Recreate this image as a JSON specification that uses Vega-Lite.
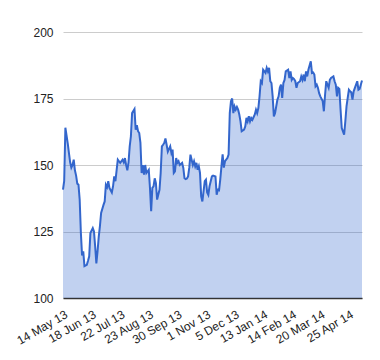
{
  "$schema": "https://vega.github.io/schema/vega-lite/v6.json",
  "width": 299,
  "height": 266,
  "autosize": {"type": "none"},
  "padding": {"left": 63, "top": 32, "right": 18, "bottom": 62},
  "config": {"view": {"stroke": null}, "font": "Liberation Sans"},
  "data": {"values": [
    {"d":0,"v":140.7},{"d":1,"v":144},{"d":2,"v":164},{"d":4,"v":158},{"d":5,"v":154.5},{"d":6,"v":151},{"d":7,"v":149},{"d":8,"v":150},{"d":9,"v":152},{"d":10,"v":148},
    {"d":11,"v":146},{"d":12,"v":143},{"d":13,"v":142.6},{"d":14,"v":137},{"d":15,"v":124.5},{"d":16,"v":116},{"d":17,"v":117.5},{"d":18,"v":112},{"d":20,"v":112.5},{"d":21,"v":114},
    {"d":22,"v":115.7},{"d":23,"v":124.4},{"d":25,"v":126.3},{"d":26,"v":125},{"d":27,"v":119.4},{"d":28,"v":113},{"d":29,"v":117.5},{"d":30,"v":123},{"d":31,"v":127},{"d":32,"v":132},
    {"d":34,"v":135},{"d":35,"v":136.3},{"d":36,"v":142.6},{"d":37,"v":141.7},{"d":38,"v":143.9},{"d":39,"v":141.4},{"d":41,"v":139.7},{"d":42,"v":142},{"d":43,"v":145.7},{"d":44,"v":143.9},
    {"d":45,"v":148},{"d":46,"v":152},{"d":47,"v":151.4},{"d":48,"v":150.8},{"d":50,"v":152},{"d":51,"v":151},{"d":52,"v":152.6},{"d":53,"v":150},{"d":54,"v":148},{"d":55,"v":151},
    {"d":56,"v":157},{"d":57,"v":160.8},{"d":58,"v":169.5},{"d":60,"v":171},{"d":61,"v":163.3},{"d":62,"v":165},{"d":63,"v":162.7},{"d":64,"v":162},{"d":65,"v":158.3},{"d":66,"v":147},
    {"d":67,"v":150},{"d":68,"v":146.4},{"d":69,"v":150},{"d":70,"v":147},{"d":72,"v":148.2},{"d":73,"v":141.4},{"d":74,"v":132.6},{"d":75,"v":141.4},{"d":76,"v":142},{"d":77,"v":145},
    {"d":78,"v":143.2},{"d":79,"v":137},{"d":81,"v":140.7},{"d":82,"v":147},{"d":83,"v":157},{"d":84,"v":157.6},{"d":85,"v":158.3},{"d":86,"v":160},{"d":87,"v":157.6},{"d":88,"v":155},
    {"d":90,"v":157},{"d":91,"v":154.5},{"d":92,"v":155.8},{"d":93,"v":147},{"d":94,"v":147.6},{"d":95,"v":152.6},{"d":96,"v":150.8},{"d":97,"v":151.4},{"d":98,"v":150},{"d":100,"v":150.8},
    {"d":101,"v":148.9},{"d":102,"v":145},{"d":103,"v":144.7},{"d":104,"v":144.9},{"d":105,"v":145.7},{"d":106,"v":149},{"d":107,"v":153.9},{"d":109,"v":150},{"d":110,"v":151.4},{"d":111,"v":149.5},
    {"d":112,"v":150.8},{"d":113,"v":148.2},{"d":114,"v":149.5},{"d":115,"v":147},{"d":116,"v":138.2},{"d":117,"v":136.3},{"d":119,"v":143.9},{"d":120,"v":144.5},{"d":121,"v":139.7},{"d":122,"v":138.8},
    {"d":123,"v":142},{"d":124,"v":143.9},{"d":125,"v":145.7},{"d":126,"v":146},{"d":128,"v":145.7},{"d":129,"v":138.8},{"d":130,"v":140.7},{"d":131,"v":140.5},{"d":132,"v":144.5},{"d":133,"v":149.5},
    {"d":134,"v":154},{"d":135,"v":149},{"d":136,"v":151.4},{"d":138,"v":152.6},{"d":139,"v":153.9},{"d":140,"v":169.5},{"d":141,"v":174},{"d":142,"v":175},{"d":143,"v":169.5},{"d":144,"v":172},
    {"d":145,"v":170.8},{"d":146,"v":171.8},{"d":147,"v":170.8},{"d":148,"v":169},{"d":149,"v":166.4},{"d":150,"v":162.7},{"d":152,"v":163.3},{"d":153,"v":164.5},{"d":154,"v":167.7},{"d":155,"v":166.4},
    {"d":156,"v":168.3},{"d":157,"v":166.4},{"d":158,"v":167.7},{"d":159,"v":167},{"d":161,"v":169},{"d":162,"v":170.8},{"d":163,"v":169.5},{"d":164,"v":171.4},{"d":165,"v":175.8},{"d":166,"v":181.5},
    {"d":167,"v":180.8},{"d":168,"v":185.8},{"d":170,"v":184.6},{"d":171,"v":186.5},{"d":172,"v":185.2},{"d":173,"v":186.5},{"d":174,"v":181.5},{"d":175,"v":180.8},{"d":176,"v":175.8},{"d":177,"v":168.3},
    {"d":178,"v":169.5},{"d":180,"v":174.6},{"d":181,"v":175.8},{"d":182,"v":179},{"d":183,"v":180.2},{"d":184,"v":175.2},{"d":185,"v":180.8},{"d":186,"v":182},{"d":187,"v":185.2},{"d":189,"v":185.8},
    {"d":190,"v":182.7},{"d":191,"v":185.2},{"d":192,"v":182},{"d":193,"v":182.7},{"d":194,"v":182.3},{"d":195,"v":181.5},{"d":196,"v":179},{"d":197,"v":180.8},{"d":199,"v":181.5},{"d":200,"v":183.3},
    {"d":201,"v":182},{"d":202,"v":184},{"d":203,"v":181.5},{"d":204,"v":185.2},{"d":205,"v":183.3},{"d":206,"v":185.8},{"d":208,"v":189},{"d":209,"v":184.6},{"d":210,"v":184.8},{"d":211,"v":184},
    {"d":212,"v":179.6},{"d":213,"v":180.2},{"d":214,"v":179},{"d":215,"v":177},{"d":216,"v":175.8},{"d":218,"v":174},{"d":219,"v":170.2},{"d":220,"v":176.4},{"d":221,"v":181.5},{"d":222,"v":180.2},
    {"d":223,"v":179},{"d":224,"v":182},{"d":225,"v":182.7},{"d":227,"v":183.3},{"d":228,"v":181.5},{"d":229,"v":180.2},{"d":230,"v":175.8},{"d":231,"v":179},{"d":232,"v":178.6},{"d":233,"v":170.8},
    {"d":234,"v":163.9},{"d":236,"v":161.4},{"d":237,"v":166.4},{"d":238,"v":172},{"d":239,"v":175.2},{"d":240,"v":178.3},{"d":241,"v":177.7},{"d":242,"v":177.3},{"d":243,"v":174.6},{"d":244,"v":177.7},
    {"d":246,"v":180.2},{"d":247,"v":181.5},{"d":248,"v":178.3},{"d":249,"v":178.6},{"d":250,"v":180.2},{"d":251,"v":181.8}
  ]},
  "encoding": {
    "x": {
      "field": "d", "type": "quantitative",
      "scale": {"domain": [0, 251], "nice": false, "zero": false},
      "axis": {
        "title": null, "grid": false, "ticks": false,
        "values": [0,24,48,72,96,120,144,168,192,216,240],
        "labelExpr": "['14 May 13','18 Jun 13','22 Jul 13','23 Aug 13','30 Sep 13','1 Nov 13','5 Dec 13','13 Jan 14','14 Feb 14','20 Mar 14','25 Apr 14'][round(datum.value/24)]",
        "labelAngle": -30, "labelAlign": "right", "labelBaseline": "middle",
        "labelPadding": 15, "labelOffset": 3, "labelFontSize": 12, "labelColor": "#222",
        "labelFlush": false, "labelOverlap": false,
        "domainColor": "#333", "domainWidth": 1.5
      }
    },
    "y": {
      "field": "v", "type": "quantitative",
      "scale": {"domain": [100, 200], "nice": false, "zero": false},
      "axis": {
        "title": null, "values": [100,125,150,175,200],
        "domain": false, "ticks": false, "labelPadding": 10,
        "labelFontSize": 12, "labelColor": "#222",
        "gridColor": "#cccccc", "gridWidth": 1
      }
    },
    "y2": {"datum": 100}
  },
  "mark": {"type": "area", "fill": "#3366cc", "fillOpacity": 0.3, "line": {"color": "#3366cc", "strokeWidth": 2}}
}
